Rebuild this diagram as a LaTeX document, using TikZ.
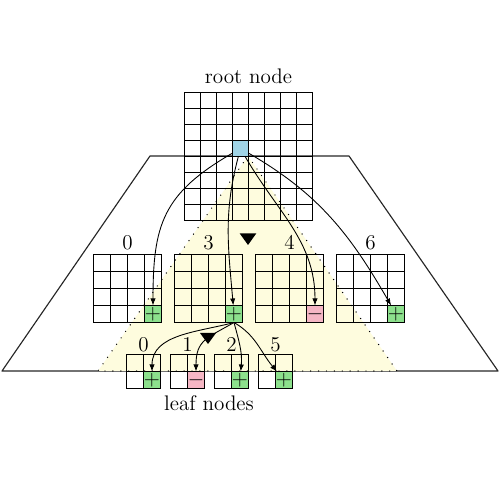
\documentclass[tikz,border=0pt]{standalone}
\usetikzlibrary{arrows.meta}

\definecolor{selblue}{RGB}{160,212,230}
\definecolor{posgreen}{RGB}{140,224,140}
\definecolor{negpink}{RGB}{245,182,196}
\definecolor{subyellow}{RGB}{254,252,222}

\begin{document}
\begin{tikzpicture}[
    % Define styles
    tree_outline/.style={
        black!85,
        line width=0.65pt,
        line join=round
    },
    subtree_edge/.style={
        black,
        line width=0.8pt,
        line cap=round,
        dash pattern=on 0pt off 4.5pt
    },
    grid_line/.style={
        black,
        line width=0.7pt,
        line cap=rect
    },
    sel_cell/.style={
        draw,
        line width=0.7pt,
        fill=selblue,
        minimum size=0.32cm,
        inner sep=0pt,
        outer sep=0pt,
        anchor=north west
    },
    pos_cell/.style={
        sel_cell,
        minimum size=0.34cm,
        fill=posgreen,
        font=\large
    },
    neg_cell/.style={
        sel_cell,
        minimum size=0.34cm,
        fill=negpink,
        font=\large
    },
    child_link/.style={
        -{Latex[length=4pt, width=3pt]},
        line width=0.5pt
    },
    level_text/.style={
        font=\large,
        anchor=base,
        inner sep=0pt
    }
]
    \useasboundingbox (0,0) rectangle (10,10);

    % --- Outline of the tree ---
    \draw[tree_outline] (3.0,6.88) -- (6.98,6.88) -- (9.96,2.58) -- (0.04,2.58) -- cycle;

    % Subtree below the selected cell
    \fill[subyellow] (4.96,6.88) -- (7.94,2.58) -- (1.96,2.58) -- cycle;
    \draw[subtree_edge] (4.96,6.88) -- (7.94,2.58) -- (1.96,2.58) -- cycle;

    \begin{scope}[shift={(0.01,-0.01)}]
    % --- Root node (8x8) ---
    \foreach \k in {0,...,8} {
        \draw[grid_line] (3.68+\k*0.32,5.60) -- ++(0,2.56);
        \draw[grid_line] (3.68,5.60+\k*0.32) -- ++(2.56,0);
    }
    \node[sel_cell] (sel) at (4.64,7.20) {};
    \node[level_text] (rootlab) at (4.96,8.33) {root node};

    % --- Middle level (4x4) ---
    \foreach \gx in {1.86, 3.48, 5.10, 6.72} {
        \foreach \k in {0,...,4} {
            \draw[grid_line] (\gx+\k*0.34,3.56) -- ++(0,1.36);
            \draw[grid_line] (\gx,3.56+\k*0.34) -- ++(1.36,0);
        }
    }
    \node[pos_cell] (c0) at (2.88,3.90) {$+$};
    \node[pos_cell] (c3) at (4.50,3.90) {$+$};
    \node[neg_cell] (c4) at (6.12,3.90) {$-$};
    \node[pos_cell] (c6) at (7.74,3.90) {$+$};

    % Labels for the middle level
    \foreach \x/\n in {2.54/0, 4.16/3, 5.78/4, 7.40/6} {
        \node[level_text] (tc\n) at (\x,5.01) {\n};
    }

    % --- Leaf level (2x2) ---
    \foreach \gx in {2.52, 3.40, 4.28, 5.16} {
        \foreach \k in {0,...,2} {
            \draw[grid_line] (\gx+\k*0.34,2.24) -- ++(0,0.68);
            \draw[grid_line] (\gx,2.24+\k*0.34) -- ++(0.68,0);
        }
    }
    \node[pos_cell] (f0) at (2.86,2.58) {$+$};
    \node[neg_cell] (f1) at (3.74,2.58) {$-$};
    \node[pos_cell] (f2) at (4.62,2.58) {$+$};
    \node[pos_cell] (f5) at (5.50,2.58) {$+$};

    % Labels for the leaf level
    \foreach \x/\n in {2.86/0, 3.74/1, 4.62/2, 5.50/5} {
        \node[level_text] (tf\n) at (\x,2.98) {\n};
    }
    \node[level_text] (leaflab) at (4.17,1.80) {leaf nodes};
    \end{scope}

    % --- Links from the root ---
    \draw[child_link] (sel) to[out=210, in=90, looseness=1.2] (c0);
    \draw[child_link] (sel) to[out=255, in=95] (c3);
    \draw[child_link] (sel) to[out=300, in=90] (c4);
    \draw[child_link] (sel) to[out=330, in=120] (c6);

    % --- Links to the leaves ---
    \draw[child_link] (c3.south) to[out=195, in=90] (f0);
    \draw[child_link] (c3.south) to[out=210, in=90, looseness=1.3] (f1);
    \draw[child_link] (c3.south) to[out=-75, in=85] (f2);
    \draw[child_link] (c3.south) to[out=-30, in=130] (f5);

    % Markers
    \fill (4.793,5.333) -- (5.127,5.333) -- (4.96,5.10) -- cycle;
    \fill (4.0,3.34) -- (4.32,3.34) -- (4.16,3.12) -- cycle;

\end{tikzpicture}
\end{document}
